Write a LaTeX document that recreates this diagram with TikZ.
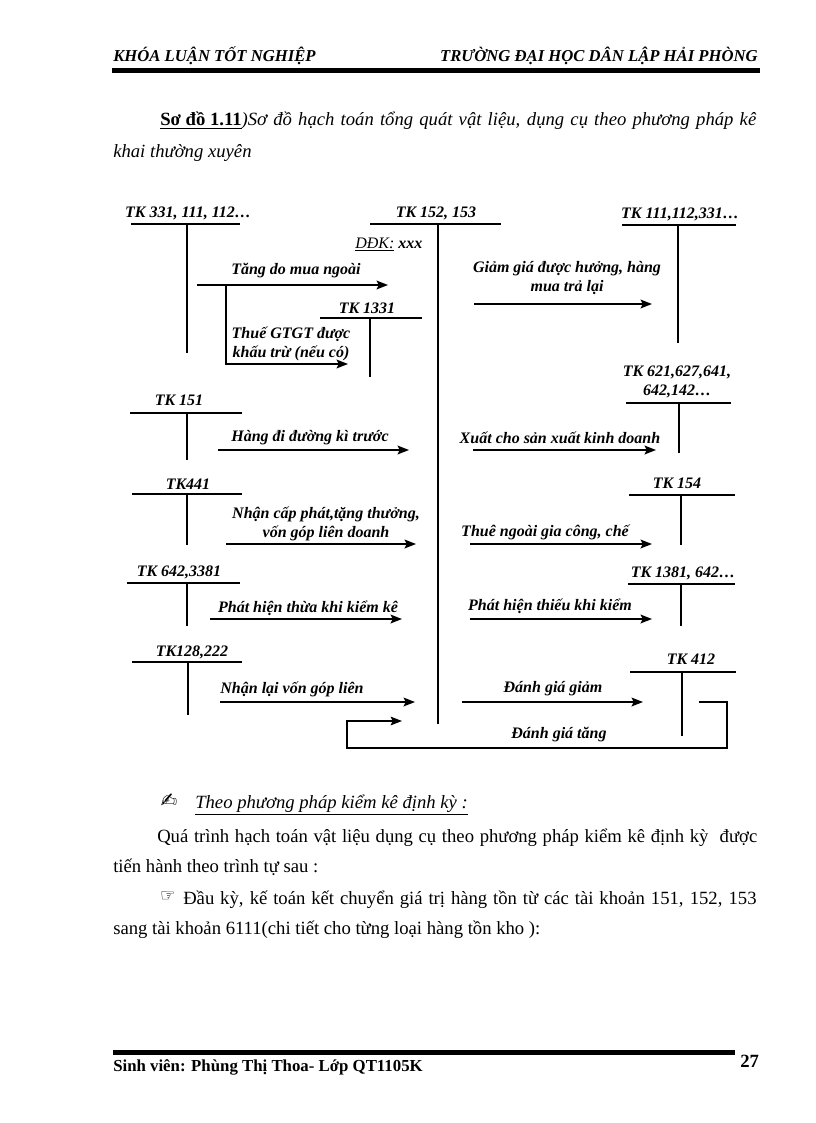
\documentclass[tikz,border=0pt]{standalone}
\usepackage{fontspec}
\setmainfont{Liberation Serif}
\newfontfamily\symfont{DejaVu Sans}
\usetikzlibrary{arrows.meta}

\begin{document}
\begin{tikzpicture}[x=0.75pt,y=-0.75pt,
  tk/.style={font=\bfseries\itshape\fontsize{12}{14}\selectfont, align=center, inner sep=0pt},
  acc/.style={line width=1.4pt},
  arr/.style={line width=1.4pt, -{Stealth[length=8.5pt,width=6.5pt,inset=1.5pt]}},
  body/.style={font=\fontsize{14}{16}\selectfont, anchor=base west, inner sep=0pt}]
\useasboundingbox (0,0) rectangle (816,1123);
% page header and footer
\node[body, font=\bfseries\itshape\fontsize{12.5}{14}\selectfont] (head1) at (113,62) {KHÓA LUẬN TỐT NGHIỆP};
\node[body, anchor=base east, font=\bfseries\itshape\fontsize{12.5}{14}\selectfont] (head2) at (758,62) {TRƯỜNG ĐẠI HỌC DÂN LẬP HẢI PHÒNG};
\fill (112,68) rectangle (760,73);
\fill (113,1050) rectangle (735,1055);
\node[body, font=\bfseries\fontsize{12.6}{14}\selectfont] (foot) at (113,1071) {Sinh viên: Phùng Thị Thoa- Lớp QT1105K};
\node[body, font=\bfseries\fontsize{14}{16}\selectfont] (page) at (740,1067) {27};
% title
\node[body] (title1) at (160,126) {\makebox[447pt][s]{\underline{\textbf{Sơ đồ 1.11}}\textit{)Sơ đồ hạch toán tổng quát vật liệu, dụng cụ theo phương pháp kê}}};
\node[body] (title2) at (113,158) {\textit{khai thường xuyên}};
% main account TK 152, 153
\node[tk] (t152) at (436,213) {TK 152, 153};
\draw[acc] (370,224) -- (501,224);
\draw[line width=2.2pt] (438,224) -- (438,724);
\node[tk, anchor=base west, font=\itshape\fontsize{12}{14}\selectfont] (ddk) at (355,248) {\underline{DĐK:} \textbf{xxx}};
% the other T accounts
\foreach \nm/\lx/\ly/\xa/\xb/\yh/\xv/\yv/\txt in {
  t331/188/213/131/240/224/187/353/{TK 331, 111, 112…},
  t111/680/214/622/736/225/678/343/{TK 111,112,331…},
  t1331/367/308/320/422/318/370/377/{TK 1331},
  t151/179/400/130/242/413/187/460/{TK 151},
  t621/677/382/626/731/403/679/453/{TK 621,627,641,\\642,142…},
  t441/188/484/132/242/494/187/545/{TK441},
  t154/677/483/629/735/495/681/545/{TK 154},
  t642/179/572/127/240/583/187/626/{TK 642,3381},
  t1381/683/573/628/735/584/681/626/{TK 1381, 642…},
  t128/192/652/132/242/662/188/715/{TK128,222},
  t412/691/659/630/736/672/682/736/{TK 412}}
{
  \node[tk] (\nm) at (\lx,\ly) {\txt};
  \draw[acc] (\xa,\yh) -- (\xb,\yh) (\xv,\yh) -- (\xv,\yv);
}
% entries
\foreach \nm/\xa/\xb/\y/\lx/\ly/\txt in {
  muangoai/197/388/285/296/271/{Tăng do mua ngoài},
  giamgia/474/652/304/567/278/{Giảm giá được hưởng, hàng\\mua trả lại},
  hangdi/218/409/450/310/438/{Hàng đi đường kì trước},
  xuat/473/656/450/560/438/{Xuất cho sản xuất kinh doanh},
  capphat/226/416/544/326/524/{Nhận cấp phát,tặng thưởng,\\vốn góp liên doanh},
  thue/470/652/544/545/532/{Thuê ngoài gia công, chế},
  thua/210/402/619/308/608/{Phát hiện thừa khi kiểm kê},
  thieu/470/652/619/550/606/{Phát hiện thiếu khi kiểm},
  nhanlai/220/415/702/292/689/{Nhận lại vốn góp liên},
  giam/462/643/702/553/689/{Đánh giá giảm}}
{
  \coordinate (\nm-s) at (\xa,\y);
  \coordinate (\nm-e) at (\xb,\y);
  \node[tk] (\nm) at (\lx,\ly) {\txt};
  \draw[arr] (\nm-s) -- (\nm-e);
}
\coordinate (gtgt-s) at (226,285);
\coordinate (gtgt-e) at (348,364);
\node[tk] (gtgt) at (291,344) {Thuế GTGT được\\khấu trừ (nếu có)};
\draw[arr] (gtgt-s) |- (gtgt-e);
\coordinate (tang-s) at (699,702);
\coordinate (tang-e) at (402,721);
\node[tk] (tang) at (559,735) {Đánh giá tăng};
\draw[arr, line width=1.1pt] (tang-s) -| (727,748) -| (347,721) -- (tang-e);
% text below the diagram
\node[body, anchor=center, font=\symfont\fontsize{15}{17}\selectfont] (pen) at (169,801) {✍};
\node[body] (sub) at (195,808) {\underline{\textit{Theo phương pháp kiểm kê định kỳ :}}};
\node[body] (par1) at (157,842) {\makebox[450pt][s]{Quá trình hạch toán vật liệu dụng cụ theo phương pháp kiểm kê định kỳ \ được}};
\node[body] (par2) at (113,872) {tiến hành theo trình tự sau :};
\node[body, anchor=center, font=\symfont\fontsize{13}{15}\selectfont] (hand) at (168,897) {☞};
\node[body] (par3) at (183,904) {\makebox[430pt][s]{Đầu kỳ, kế toán kết chuyển giá trị hàng tồn từ các tài khoản 151, 152, 153}};
\node[body] (par4) at (113,934) {sang tài khoản 6111(chi tiết cho từng loại hàng tồn kho ):};
\end{tikzpicture}
\end{document}
